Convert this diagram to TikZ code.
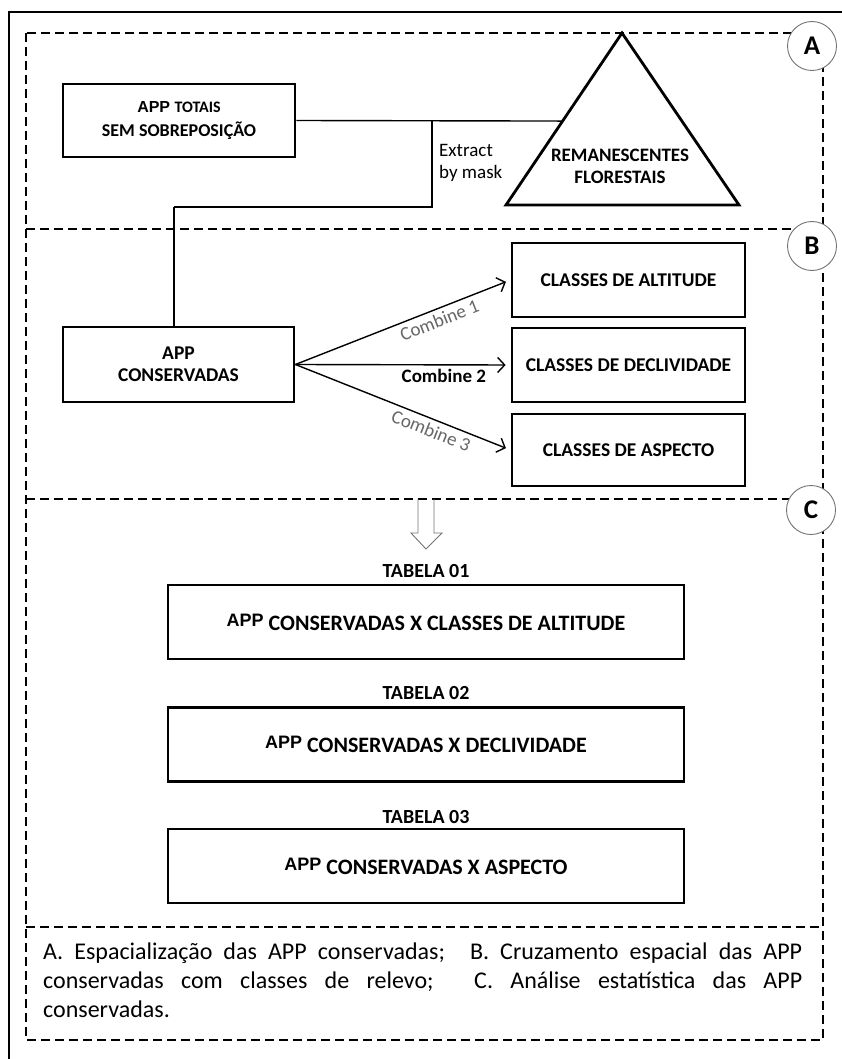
\documentclass[tikz,border=0pt]{standalone}
\usepackage{fontspec}
\setmainfont{Carlito}
\newfontfamily\arialfont{Liberation Sans}
\usetikzlibrary{arrows.meta,calc}
\newcommand{\fsz}[2]{\fontsize{#1}{#2}\selectfont}
\newcommand{\appmark}[2]{\raisebox{#2}{\arialfont\bfseries\fsz{#1}{#1}APP}}
\tikzset{
  sectionbox/.style={dash pattern=on 9pt off 5pt, line width=1.8pt},
  procbox/.style={draw, line width=2.8pt, align=center, inner sep=0pt,
    font=\bfseries\fsz{19.5}{22}},
  tablebox/.style={draw, line width=2.8pt, minimum width=516pt,
    minimum height=74pt, inner sep=0pt, font=\bfseries\fsz{22}{24}},
  tabletitle/.style={font=\bfseries\fsz{20}{22}},
  tag/.style={circle, draw=black!55, line width=0.9pt, fill=white,
    minimum size=49pt, inner sep=0pt, font=\bfseries\fsz{27}{27}},
  flow/.style={line width=1.4pt, -{Straight Barb[length=7pt,width=15pt]},
    shorten >=5pt},
  flowlabel/.style={below=3pt, sloped, inner sep=1pt, font=\fsz{19}{19}},
}
\begin{document}
\begin{tikzpicture}[x=1pt,y=-1pt]
  \useasboundingbox (0,0) rectangle (841,1059);
  % outer frame
  \draw[line width=2.5pt] (9,12) rectangle (870,1080);
  % sections
  \draw[sectionbox] (26,33) rectangle (823,1040);
  \draw[sectionbox] (26,229) -- (823,229);
  \draw[sectionbox] (26,499) -- (823,499);
  \draw[sectionbox] (26,927) -- (823,927);
  \node[tag] (tagA) at (812,46) {A};
  \node[tag] (tagB) at (812,246) {B};
  \node[tag] (tagC) at (811,510) {C};

  % A
  \node[procbox, minimum width=232pt, minimum height=73pt] (totais)
    at (179,120.5)
    {\appmark{16}{0pt} {\fsz{16}{16}TOTAIS}\\[2pt]\fsz{18}{22}SEM SOBREPOSIÇÃO};
  \coordinate (triTop) at (622,33);
  \coordinate (triLeft) at (506,205);
  \coordinate (triRight) at (739,205);
  \draw[line width=2.8pt,line join=miter]
    (triTop) -- (triRight) -- (triLeft) -- cycle;
  \node[font=\bfseries\fsz{19}{22}, align=center] (remanescentes)
    at (620,166) {REMANESCENTES\\FLORESTAIS};
  \coordinate (triHit) at ($(triLeft)!0.488!(triTop)$);
  \coordinate (split) at (432,120.5);
  \coordinate (bend) at (174,207);
  \draw[line width=1.4pt] (totais.east) -- (triHit);
  \draw[line width=1.4pt] (split) |- (bend);
  \node[anchor=north west, align=left, inner sep=0pt,
    font=\fsz{19}{22}] (extract) at (439,144) {Extract\\by mask};

  % B
  \node[procbox, minimum width=231pt, minimum height=75pt] (conservadas)
    at (178.5,364.5)
    {\fsz{19.5}{30}APP\\CONSERVADAS};
  \draw[line width=1.4pt] (bend) -- (bend |- conservadas.north);
  \node[procbox, minimum width=233pt, minimum height=74pt] (altitude)
    at (628.5,280) {CLASSES DE ALTITUDE};
  \node[procbox, minimum width=233pt, minimum height=74pt] (declividade)
    at (628.5,365) {CLASSES DE DECLIVIDADE};
  \node[procbox, minimum width=233pt, minimum height=72pt] (aspecto)
    at (628.5,450) {CLASSES DE ASPECTO};
  \draw[flow] (conservadas.east) -- (altitude.west)
    node[flowlabel, pos=0.65, text=black!60] {Combine 1};
  \draw[flow] (conservadas.east) -- (declividade.west)
    node[flowlabel, pos=0.69, font=\bfseries\fsz{19}{19}] {Combine 2};
  \draw[flow] (conservadas.east) -- (aspecto.west)
    node[flowlabel, pos=0.65, text=black!60] {Combine 3};

  % C
  \draw[black!55, line width=0.9pt, line join=miter]
    (418,499) -- (418,533) -- (411,533) -- (426,549)
    -- (442,533) -- (434,533) -- (434,499);
  \node[tabletitle] (titulo1) at (426,571) {TABELA 01};
  \node[tablebox] (tabela1) at (426,622)
    {\appmark{18}{4pt} CONSERVADAS X CLASSES DE ALTITUDE};
  \node[tabletitle] (titulo2) at (426,693) {TABELA 02};
  \node[tablebox] (tabela2) at (426,744.5)
    {\appmark{18}{4pt} CONSERVADAS X DECLIVIDADE};
  \node[tabletitle] (titulo3) at (426,817) {TABELA 03};
  \node[tablebox] (tabela3) at (426,866)
    {\appmark{18}{4pt} CONSERVADAS X ASPECTO};

  % legenda
  \node[anchor=north west, inner sep=0pt, text width=759pt, align=justify,
    font=\fsz{24}{29}] (legenda) at (43,943)
    {A. Espacialização das APP conservadas;~ B. Cruzamento espacial das APP\linebreak
     conservadas com classes de relevo;~ C. Análise estatística das APP\linebreak
     conservadas.};
\end{tikzpicture}
\end{document}
